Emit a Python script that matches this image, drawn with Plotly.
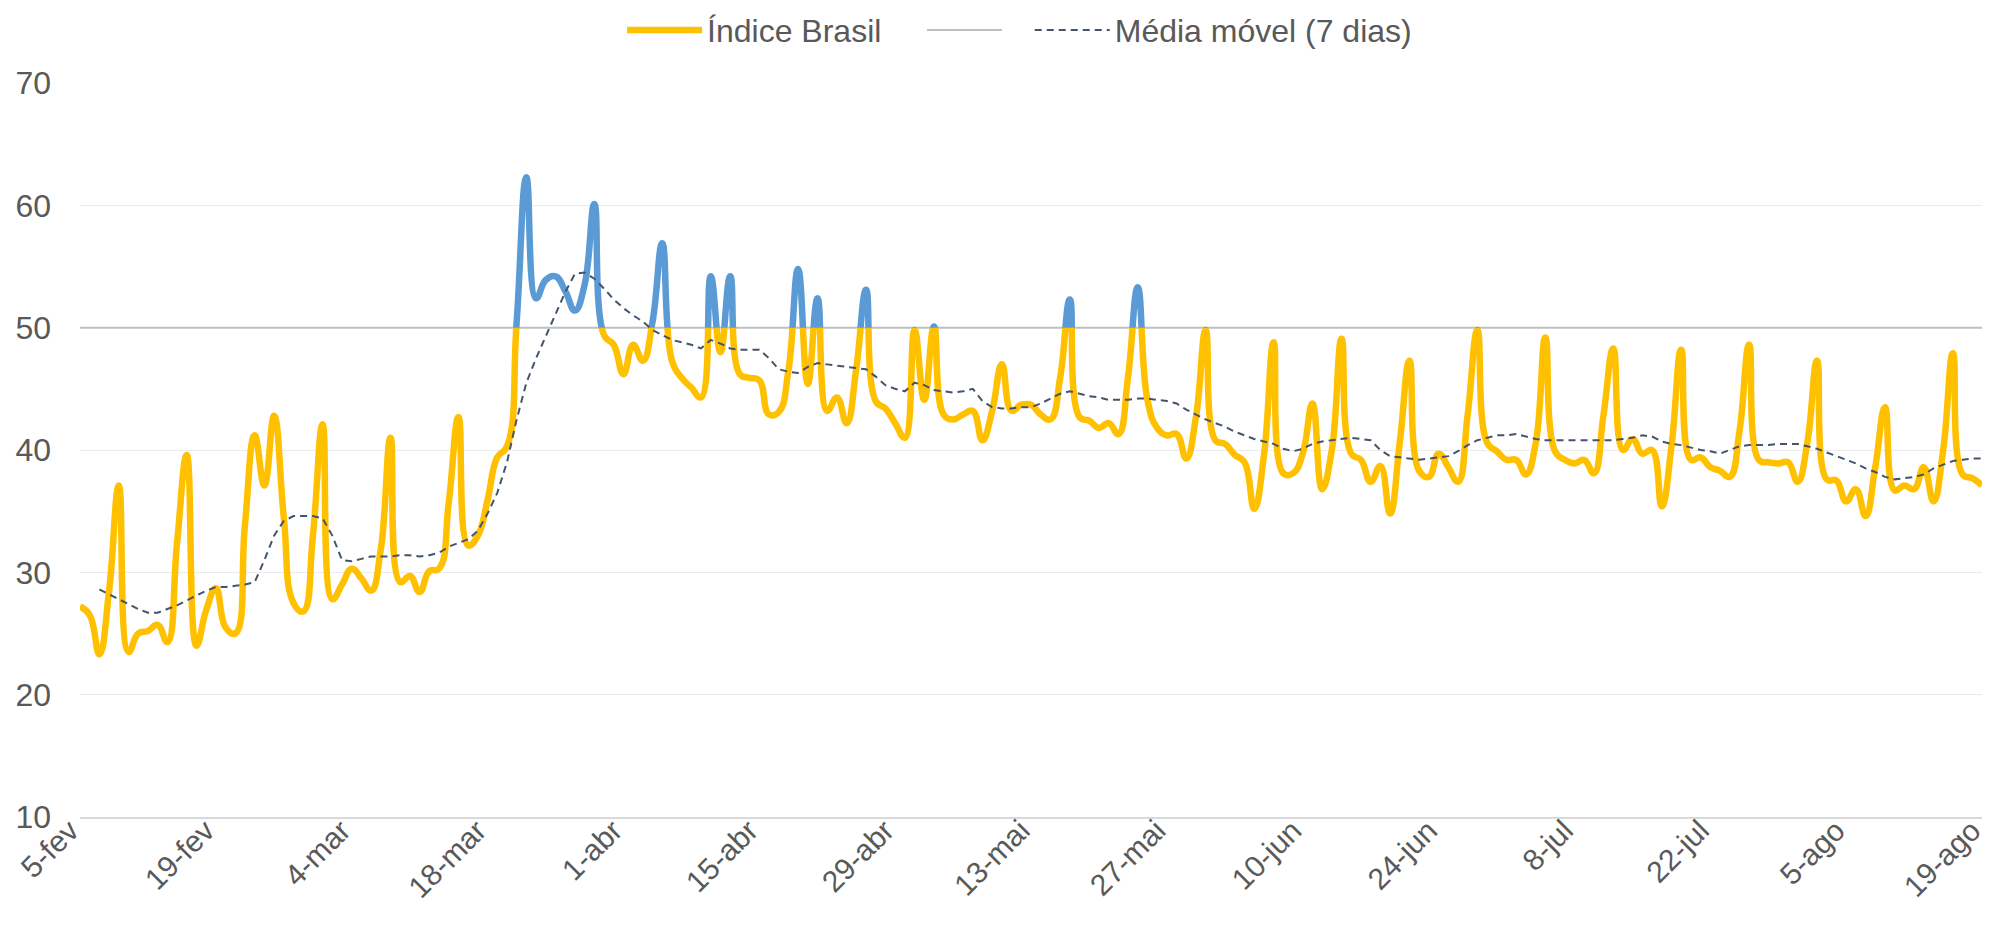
import pandas as pd
import plotly.graph_objects as go

# Dias de 5-fev a 19-ago (2020)
datas = pd.date_range("2020-02-05", "2020-08-19", freq="D")

# Índice Brasil - valor diário (linhas de 7 dias, começando numa quarta-feira)
indice = [
    27.2, 26.5, 23.3, 28.5, 37.1, 23.5, 25.0,
    25.2, 25.7, 24.3, 32.4, 39.6, 24.0, 26.9,
    28.7, 25.5, 25.0, 33.9, 41.2, 37.1, 42.8,
    34.5, 27.5, 26.8, 33.0, 42.1, 27.8, 29.0,
    30.3, 29.5, 28.5, 31.9, 41.0, 29.2, 29.7,
    28.4, 30.1, 30.3, 35.7, 42.7, 32.2, 33.0,
    35.9, 39.4, 40.3, 50.5, 62.3, 52.4, 53.9,
    54.2, 53.0, 51.4, 53.5, 60.1, 49.4, 48.6,
    46.2, 48.6, 47.3, 50.5, 56.9, 47.3, 45.9,
    45.1, 44.3, 54.2, 48.0, 54.2, 46.2, 45.9,
    45.7, 42.9, 43.1, 46.5, 54.8, 45.4, 52.4,
    43.2, 44.3, 42.2, 46.7, 53.1, 44.0, 43.4,
    42.2, 41.0, 49.8, 44.1, 50.1, 42.9, 42.5,
    42.9, 43.2, 40.8, 43.2, 47.0, 43.2, 43.7,
    43.7, 42.9, 42.5, 45.9, 52.3, 42.7, 42.4,
    41.8, 42.2, 41.3, 46.0, 53.3, 44.1, 41.8,
    41.2, 41.3, 39.3, 42.7, 49.8, 40.8, 40.5,
    39.6, 39.0, 35.2, 39.5, 48.8, 38.1, 38.1,
    39.7, 43.8, 36.8, 40.0, 49.1, 39.7, 39.2,
    37.4, 38.7, 34.8, 40.6, 47.3, 38.3, 37.8,
    39.7, 38.6, 37.4, 42.9, 49.8, 40.6, 39.9,
    39.2, 39.2, 38.0, 40.5, 49.2, 39.9, 39.2,
    38.9, 39.2, 38.1, 42.9, 48.3, 40.0, 40.9,
    39.7, 40.0, 35.4, 40.3, 48.2, 39.2, 39.4,
    38.6, 38.3, 37.8, 41.5, 48.6, 39.2, 39.0,
    38.9, 39.0, 37.4, 40.6, 47.3, 37.6, 37.5,
    35.8, 36.8, 34.6, 38.6, 43.5, 36.7, 37.1,
    36.8, 38.6, 35.8, 40.0, 47.9, 38.0, 37.7,
    37.1,
]

# Média móvel (7 dias)
media_movel = [
    None, None, 28.6, 28.2, 27.8, 27.4, 27.0,
    26.7, 26.7, 27.0, 27.3, 27.7, 28.1, 28.5,
    28.8, 28.8, 28.9, 29.0, 29.2, 31.0, 33.0,
    34.2, 34.6, 34.6, 34.6, 34.4, 33.0, 31.0,
    30.9, 31.1, 31.3, 31.3, 31.3, 31.4, 31.4,
    31.3, 31.4, 31.6, 32.1, 32.4, 32.7, 33.4,
    34.8, 36.5, 39.0, 42.5, 45.5, 47.5, 49.3,
    51.0, 52.9, 54.4, 54.5, 54.0, 53.2, 52.3,
    51.6, 51.0, 50.5, 49.8, 49.4, 49.0, 48.8,
    48.6, 48.3, 49.0, 48.7, 48.3, 48.2, 48.2,
    48.2, 47.5, 46.6, 46.4, 46.3, 46.8, 47.1,
    47.0, 46.9, 46.8, 46.7, 46.6, 46.0, 45.3,
    45.0, 44.8, 45.5, 45.3, 44.9, 44.8, 44.7,
    44.8, 45.0, 44.0, 43.5, 43.4, 43.4, 43.5,
    43.5, 43.8, 44.2, 44.6, 44.8, 44.6, 44.4,
    44.3, 44.1, 44.1, 44.1, 44.2, 44.2, 44.1,
    44.0, 43.8, 43.3, 42.9, 42.5, 42.2, 41.9,
    41.5, 41.2, 40.9, 40.7, 40.5, 40.1, 39.9,
    40.1, 40.5, 40.7, 40.8, 40.9, 41.0, 40.9,
    40.8, 40.0, 39.5, 39.4, 39.3, 39.2, 39.3,
    39.4, 39.5, 39.9, 40.4, 40.8, 41.0, 41.2,
    41.2, 41.3, 41.1, 40.9, 40.8, 40.8, 40.8,
    40.8, 40.8, 40.8, 40.8, 40.8, 40.9, 41.0,
    41.2, 41.1, 40.7, 40.5, 40.4, 40.2, 40.0,
    39.9, 39.7, 40.0, 40.3, 40.4, 40.4, 40.4,
    40.5, 40.5, 40.5, 40.3, 40.1, 39.8, 39.5,
    39.2, 38.9, 38.5, 38.2, 37.8, 37.6, 37.7,
    37.8, 38.0, 38.5, 38.8, 39.1, 39.2, 39.3,
    39.3,
]

tick_datas = ["2020-02-05", "2020-02-19", "2020-03-04", "2020-03-18", "2020-04-01",
              "2020-04-15", "2020-04-29", "2020-05-13", "2020-05-27", "2020-06-10",
              "2020-06-24", "2020-07-08", "2020-07-22", "2020-08-05", "2020-08-19"]
tick_rotulos = ["5-fev", "19-fev", "4-mar", "18-mar", "1-abr", "15-abr", "29-abr",
                "13-mai", "27-mai", "10-jun", "24-jun", "8-jul", "22-jul", "5-ago", "19-ago"]

nivel_referencia = 50
y_min, y_max = 10, 70

AZUL = "#5B9BD5"
AMARELO = "#FFC000"
CINZA_TEXTO = "#595959"
FONTE = "Liberation Sans, Arial, sans-serif"
NBSP = "\u00a0"

# fração da altura do gráfico onde fica a linha de 50
corte = (nivel_referencia - y_min) / (y_max - y_min)

fig = go.Figure()

# Linha de referência em 50
fig.add_trace(go.Scatter(
    x=[datas[0], datas[-1]],
    y=[nivel_referencia, nivel_referencia],
    mode="lines",
    name=NBSP * 2,
    line=dict(color="#BFBFBF", width=2),
    legendrank=2,
    hoverinfo="skip",
))

# Índice abaixo de 50 (amarelo) - recortado pelo subplot inferior
fig.add_trace(go.Scatter(
    x=datas, y=indice,
    mode="lines",
    name="Índice Brasil" + NBSP * 4,
    yaxis="y2",
    line=dict(color=AMARELO, width=6.5, shape="spline", smoothing=1.3, simplify=False),
    legendrank=1,
))

# Índice acima de 50 (azul) - recortado pelo subplot superior
fig.add_trace(go.Scatter(
    x=datas, y=indice,
    mode="lines",
    name="Índice Brasil",
    yaxis="y3",
    showlegend=False,
    line=dict(color=AZUL, width=6.5, shape="spline", smoothing=1.3, simplify=False),
))

# Média móvel (por cima das outras linhas)
fig.add_trace(go.Scatter(
    x=datas, y=media_movel,
    mode="lines",
    name="Média móvel (7 dias)",
    yaxis="y4",
    line=dict(color="#44546A", width=2, dash="7px,5px"),
    legendrank=3,
    connectgaps=False,
))

# a página tem 8px de margem no body, por isso a figura é um pouco menor
fig.update_layout(
    width=2000, height=918,
    margin=dict(l=72, r=26, t=75, b=109, autoexpand=False),
    plot_bgcolor="rgba(0,0,0,0)",
    paper_bgcolor="white",
    font=dict(family=FONTE, size=30, color=CINZA_TEXTO),
    showlegend=True,
    legend=dict(
        orientation="h",
        x=0.494, xanchor="center",
        y=1.072, yanchor="middle",
        font=dict(size=32, color=CINZA_TEXTO),
        itemwidth=75,
        bgcolor="rgba(0,0,0,0)",
    ),
    xaxis=dict(
        type="date",
        range=[datas[0], datas[-1]],
        tickvals=tick_datas,
        ticktext=tick_rotulos,
        tickangle=-45,
        tickfont=dict(size=30, color=CINZA_TEXTO),
        ticklabelstandoff=-18,
        ticklabelshift=-10,
        showgrid=False,
        showline=True,
        linecolor="#D9D9D9",
        linewidth=2,
        ticks="",
        zeroline=False,
        anchor="y",
        automargin=False,
    ),
    yaxis=dict(
        range=[y_min, y_max],
        tick0=y_min, dtick=10,
        domain=[0, 1],
        showgrid=True,
        gridcolor="#EBEBEB",
        gridwidth=1,
        zeroline=False,
        showline=False,
        ticks="",
        tickfont=dict(size=32, color=CINZA_TEXTO),
        ticklabelstandoff=28,
        automargin=False,
    ),
    yaxis2=dict(range=[y_min, nivel_referencia], domain=[0, corte], visible=False,
                fixedrange=True, anchor="x", showgrid=False),
    yaxis3=dict(range=[nivel_referencia, y_max], domain=[corte, 1], visible=False,
                fixedrange=True, anchor="x", showgrid=False),
    yaxis4=dict(range=[y_min, y_max], domain=[0, 1], visible=False,
                fixedrange=True, anchor="x", showgrid=False),
)

fig.write_html("out.html")
